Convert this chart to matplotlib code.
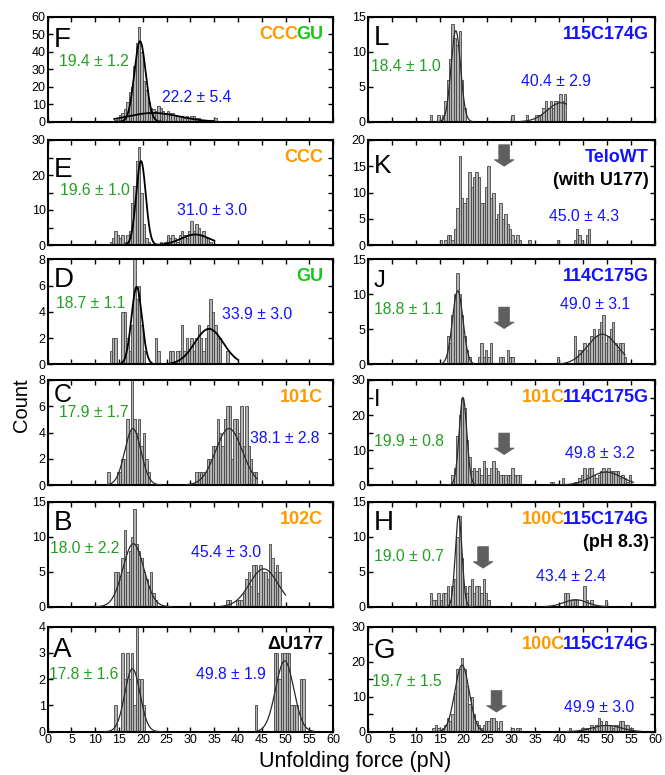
import numpy as np
import matplotlib
matplotlib.use('Agg')
import matplotlib.pyplot as plt
import matplotlib.transforms as mtransforms
from matplotlib.patches import Polygon

plt.rcParams['font.family'] = ['Liberation Sans', 'DejaVu Sans']

BIN = 0.5  # pN bin width

# ---------------- histogram data (bin left edge start, counts) ----------------
F_start = 14.0
F_counts = [1, 2, 4, 5, 7, 11, 17, 20, 32, 45, 54, 40, 23, 18, 11, 8, 7, 6, 9, 8,
            6, 5, 6, 5, 5, 4, 3, 3, 3, 2, 3, 2, 3, 3, 2, 2, 1, 1, 1, 1, 0, 1, 2]

E_start = 13.0
E_counts = [1, 2, 4, 3, 2, 3, 1, 3, 4, 12, 17, 24, 28, 15, 6, 2, 1, 0, 0, 0,
            0, 1, 0, 1, 3, 2, 3, 2, 1, 3, 4, 3, 2, 4, 7, 4, 6, 5, 3, 4, 2, 2, 1]

D_start = 13.0
D_counts = [1, 2, 2, 0, 0, 4, 4, 2, 1, 3, 8, 5, 6, 3, 1, 0, 0, 0, 0, 2,
            1, 0, 0, 0, 0, 1, 1, 0, 1, 1, 3, 1, 2, 1, 2, 1, 2, 3, 2, 1,
            2, 3, 5, 4, 3, 2, 2, 0, 0, 1]

C_lo_start = 12.5
C_lo_counts = [1, 0, 0, 0, 1, 1, 2, 2, 5, 4, 8, 5, 4, 5, 3, 4, 2, 1]
C_hi_start = 31.0
C_hi_counts = [1, 1, 1, 1, 1, 2, 2, 3, 3, 5, 4, 3, 5, 6, 6, 2, 5, 5, 4, 6, 3, 6, 3, 2, 1, 1]

B_lo_start = 14.0
B_lo_counts = [5, 5, 4, 7, 11, 5, 8, 10, 14, 9, 8, 7, 5, 4, 3, 5, 2, 1]
B_hi_start = 37.5
B_hi_counts = [1, 1, 0, 0, 1, 1, 1, 2, 4, 5, 3, 6, 6, 2, 6, 5, 5, 4, 9, 7, 5, 6, 5]

A_lo_start = 14.0
A_lo_counts = [1, 0, 0, 3, 2, 3, 2, 3, 1, 4, 2, 2, 1]
A_hi_start = 43.5
A_hi_counts = [1, 0, 0, 0, 0, 0, 0, 0, 3, 3, 2, 3, 3, 3, 3, 1, 1, 1, 0, 2, 2]

L_lo_start = 13.0
L_lo_counts = [1, 0, 0, 1, 0, 1, 3, 6, 9, 14, 12, 11, 13, 6, 2]
L_hi_start = 30.0
L_hi_counts = [1, 0, 0, 0, 0, 0, 1, 0, 0, 0, 1, 1, 1, 2, 3, 2, 3, 2, 3, 3, 4, 3, 4]

K_start = 15.0
K_counts = [1, 0, 1, 2, 2, 1, 3, 7, 17, 9, 8, 9, 14, 11, 13, 14, 13, 8, 8, 11,
            15, 9, 10, 5, 6, 8, 5, 6, 4, 3, 2, 1, 2, 1, 0, 0, 0, 1, 0, 0,
            0, 0, 0, 0, 0, 0, 0, 0, 0, 1, 0, 0, 0, 0, 0, 0, 1, 3, 2, 1, 0, 2, 3]

J_lo_start = 16.5
J_lo_counts = [4, 3, 7, 10, 13, 10, 7, 4, 2, 1, 0, 0, 0, 1, 3, 1, 2, 1, 3, 0,
               0, 0, 1, 1, 0, 2, 1, 1]
J_hi_start = 39.5
J_hi_counts = [1, 0, 0, 0, 0, 0, 0, 4, 1, 2, 2, 3, 2, 3, 4, 5, 4, 5, 6, 7,
               3, 4, 5, 6, 3, 2, 3, 3, 1]

I_lo_start = 17.5
I_lo_counts = [3, 5, 14, 20, 25, 22, 13, 8, 4, 5, 4, 5, 3, 7, 5, 3, 5, 7, 5, 4,
               3, 3, 3, 3, 3, 5, 3, 3, 3]
I_hi_start = 38.0
I_hi_counts = [1, 1, 0, 0, 0, 2, 0, 0, 0, 0, 1, 1, 2, 3, 5, 3, 5, 5, 3, 2,
               3, 4, 5, 4, 5, 4, 4, 4, 4, 2, 3, 2, 1, 3]

H_lo_start = 13.0
H_lo_counts = [2, 1, 1, 2, 1, 2, 2, 3, 1, 3, 4, 10, 13, 7, 3, 2, 3, 4, 2, 3, 3, 2, 4, 2, 1]
H_hi_start = 41.0
H_hi_counts = [2, 2, 1, 1, 1, 1, 0, 0, 3, 1, 0, 1, 0, 0, 0, 0, 0, 1]

G_lo_start = 13.5
G_lo_counts = [1, 2, 1, 0, 1, 2, 4, 3, 5, 11, 18, 18, 21, 18, 13, 8, 10, 5, 3, 2,
               1, 2, 3, 3, 4, 4, 3, 1, 3, 0, 0, 0, 0, 1, 0, 1, 1]
G_hi_start = 42.0
G_hi_counts = [1, 0, 0, 0, 0, 1, 1, 1, 1, 2, 1, 2, 4, 3, 2, 3, 2, 2, 1, 2,
               2, 3, 3, 2, 2, 1, 1]

# ---------------- Gaussian fits: (mean, sd, amplitude, x from, x to) ----------------
F_fits = [(19.4, 1.2, 46, 15.0, 24.0), (22.2, 5.4, 5.0, 14.0, 35.0)]
E_fits = [(19.6, 1.0, 24, 16.0, 23.0), (31.0, 3.0, 3.0, 22.5, 35.0)]
D_fits = [(18.7, 1.1, 5.9, 13.5, 22.0), (33.9, 3.0, 2.7, 25.0, 40.0)]
C_fits = [(17.9, 1.7, 4.3, 12.5, 24.0), (38.1, 2.8, 4.3, 29.0, 44.0)]
B_fits = [(18.0, 2.2, 9.0, 10.0, 26.0), (45.4, 3.0, 5.4, 36.5, 50.0)]
A_fits = [(17.8, 1.6, 2.4, 12.0, 24.0), (49.8, 1.9, 2.7, 44.0, 56.0)]
L_fits = [(18.4, 1.0, 13, 14.5, 22.0), (40.4, 2.9, 2.7, 32.0, 41.5)]
K_fits = []
J_fits = [(18.8, 1.1, 10.5, 15.0, 22.0), (49.0, 3.1, 4.3, 40.0, 53.7)]
I_fits = [(19.9, 0.8, 25, 16.0, 23.0), (49.8, 3.2, 3.7, 40.0, 55.5)]
H_fits = [(19.0, 0.7, 13, 16.0, 22.0), (43.4, 2.4, 1.0, 37.0, 50.0)]
G_fits = [(19.7, 1.5, 19, 15.0, 24.0), (49.9, 3.0, 1.8, 40.0, 57.0)]

# ---------------- annotations ----------------
ORANGE = '#ff9900'
GREEN_L = '#14c814'
GREEN_T = '#23a023'
BLUE = '#1212ff'
BLACK = '#000000'

# (text, x, y) for green and blue fit labels
F_notes = [("19.4 ± 1.2", 2.4, 34.4), ("22.2 ± 5.4", 24.1, 14.1)]
E_notes = [("19.6 ± 1.0", 2.6, 15.7), ("31.0 ± 3.0", 27.1, 9.8)]
D_notes = [("18.7 ± 1.1", 1.7, 4.64), ("33.9 ± 3.0", 36.6, 3.8)]
C_notes = [("17.9 ± 1.7", 2.4, 5.56), ("38.1 ± 2.8", 42.5, 3.54)]
B_notes = [("18.0 ± 2.2", 0.5, 8.33), ("45.4 ± 3.0", 30.1, 7.7)]
A_notes = [("17.8 ± 1.6", 0.3, 2.19), ("49.8 ± 1.9", 31.2, 2.19)]
L_notes = [("18.4 ± 1.0", 0.6, 7.86), ("40.4 ± 2.9", 32.0, 5.7)]
K_notes = [(None, 0, 0), ("45.0 ± 4.3", 37.9, 5.5)]
J_notes = [("18.8 ± 1.1", 1.4, 7.85), ("49.0 ± 3.1", 40.2, 8.5)]
I_notes = [("19.9 ± 0.8", 1.4, 12.3), ("49.8 ± 3.2", 41.1, 9.0)]
H_notes = [("19.0 ± 0.7", 1.4, 7.24), ("43.4 ± 2.4", 35.1, 4.3)]
G_notes = [("19.7 ± 1.5", 1.0, 14.2), ("49.9 ± 3.0", 40.9, 7.0)]

# panel titles: list of lines, each a list of (text, colour)
F_title = [[("CCC", ORANGE), ("GU", GREEN_L)]]
E_title = [[("CCC", ORANGE)]]
D_title = [[("GU", GREEN_L)]]
C_title = [[("101C", ORANGE)]]
B_title = [[("102C", ORANGE)]]
A_title = [[("ΔU177", BLACK)]]
L_title = [[("115C174G", BLUE)]]
K_title = [[("TeloWT", BLUE)], [("(with U177)", BLACK)]]
J_title = [[("114C175G", BLUE)]]
I_title = [[("101C", ORANGE), ("114C175G", BLUE)]]
H_title = [[("100C", ORANGE), ("115C174G", BLUE)], [("(pH 8.3)", BLACK)]]
G_title = [[("100C", ORANGE), ("115C174G", BLUE)]]

# arrows: (x, tip y) in data
K_arrow = [(28.5, 15.0)]
J_arrow = [(28.5, 5.1)]
I_arrow = [(28.5, 8.7)]
H_arrow = [(24.1, 5.5)]
G_arrow = [(26.9, 5.6)]

# panel letter: (baseline in axes fraction, size)
panels = [
    ('F', 0, 0, [(F_start, F_counts)], F_fits, F_notes, F_title, [], (60, 10, None), True, (0.715, 20)),
    ('E', 0, 1, [(E_start, E_counts)], E_fits, E_notes, E_title, [], (30, 10, 5), True, (0.65, 20)),
    ('D', 0, 2, [(D_start, D_counts)], D_fits, D_notes, D_title, [], (8, 2, None), True, (0.735, 20)),
    ('C', 0, 3, [(C_lo_start, C_lo_counts), (C_hi_start, C_hi_counts)], C_fits, C_notes, C_title, [], (8, 2, None), False, (0.79, 18)),
    ('B', 0, 4, [(B_lo_start, B_lo_counts), (B_hi_start, B_hi_counts)], B_fits, B_notes, B_title, [], (15, 5, None), False, (0.73, 20)),
    ('A', 0, 5, [(A_lo_start, A_lo_counts), (A_hi_start, A_hi_counts)], A_fits, A_notes, A_title, [], (4, 1, None), False, (0.71, 20)),
    ('L', 1, 0, [(L_lo_start, L_lo_counts), (L_hi_start, L_hi_counts)], L_fits, L_notes, L_title, [], (15, 5, None), False, (0.73, 20)),
    ('K', 1, 1, [(K_start, K_counts)], K_fits, K_notes, K_title, K_arrow, (20, 5, None), False, (0.69, 19)),
    ('J', 1, 2, [(J_lo_start, J_lo_counts), (J_hi_start, J_hi_counts)], J_fits, J_notes, J_title, J_arrow, (15, 5, None), False, (0.74, 17)),
    ('I', 1, 3, [(I_lo_start, I_lo_counts), (I_hi_start, I_hi_counts)], I_fits, I_notes, I_title, I_arrow, (30, 10, 5), False, (0.75, 17)),
    ('H', 1, 4, [(H_lo_start, H_lo_counts), (H_hi_start, H_hi_counts)], H_fits, H_notes, H_title, H_arrow, (15, 5, None), False, (0.73, 20)),
    ('G', 1, 5, [(G_lo_start, G_lo_counts), (G_hi_start, G_hi_counts)], G_fits, G_notes, G_title, G_arrow, (30, 10, 5), False, (0.70, 20)),
]

W, H = 665, 775
fig = plt.figure(figsize=(W / 100, H / 100), dpi=100)
renderer = fig.canvas.get_renderer()

col_x = [(47.7, 285.5), (367.7, 287.3)]
row_tops = [16.7, 140.0, 259.3, 380.0, 501.7, 626.7]
row_h = 105.0
TITLE_SIZE = 13
JOIN_FIX = 2.5  # px: tighten the join between two differently coloured parts


def colored_right(ax, x, y, parts, size):
    full = ''.join(p[0] for p in parts)
    kw = dict(va='baseline', fontsize=size, fontweight='bold', transform=ax.transAxes)
    if len(parts) == 1:
        ax.text(x, y, full, color=parts[0][1], ha='right', **kw)
        return
    tmp = ax.text(x, y, full, ha='right', **kw)
    wfull = tmp.get_window_extent(renderer).width
    tmp.remove()
    ax.text(x, y, parts[1][0], color=parts[1][1], ha='right', **kw)
    tr = mtransforms.offset_copy(ax.transAxes, fig=fig, x=-wfull + JOIN_FIX, y=0, units='dots')
    kw['transform'] = tr
    ax.text(x, y, parts[0][0], color=parts[0][1], ha='left', **kw)


def draw_arrow(ax, x, y):
    # arrow in pixel units (inches at 100 dpi), anchored at tip
    hw_s, hw_h, L, hl = 0.054, 0.10, 0.215, 0.065
    verts = [(0, 0), (-hw_h, hl), (-hw_s, hl), (-hw_s, L), (hw_s, L), (hw_s, hl), (hw_h, hl)]
    tr = fig.dpi_scale_trans + mtransforms.ScaledTranslation(x, y, ax.transData)
    ax.add_patch(Polygon(verts, closed=True, transform=tr, fc='#5f5f5f', ec='#5f5f5f', lw=0.5,
                         zorder=5, clip_on=False))


for letter, col, row, segs, fits, notes, title, arrows, yax, heavy, lett in panels:
    x0, w = col_x[col]
    top = row_tops[row]
    ax = fig.add_axes([x0 / W, 1 - (top + row_h) / H, w / W, row_h / H])
    for start, counts in segs:
        edges = start + BIN * np.arange(len(counts))
        ax.bar(edges, counts, width=BIN, align='edge', color='#b4b4b4',
               edgecolor='#444444', linewidth=0.6, zorder=2)
    for mu, sd, amp, lo, hi in fits:
        xs = np.linspace(lo, hi, 300)
        ys = amp * np.exp(-0.5 * ((xs - mu) / sd) ** 2)
        if heavy:
            ax.plot(xs, ys, color='black', lw=1.3, zorder=3)
        else:
            ax.plot(xs, ys, color='#2a2a2a', lw=0.9, zorder=3)
    ymax, step, minor = yax
    ax.set_xlim(0, 60)
    ax.set_ylim(0, ymax)
    ax.set_xticks(np.arange(0, 61, 5))
    ax.set_yticks(np.arange(0, ymax + 0.01, step))
    if minor:
        ax.set_yticks(np.arange(0, ymax + 0.01, minor), minor=True)
    ax.tick_params(which='both', direction='in', top=True, right=True, length=3.5,
                   width=1.0, labelsize=9, pad=1.5)
    if row != 5:
        ax.set_xticklabels([])
    for sp in ax.spines.values():
        sp.set_linewidth(1.5)
    (gt, gx, gy), (bt, bx, by) = notes
    if gt:
        ax.text(gx, gy, gt, color=GREEN_T, fontsize=11.3, ha='left', va='center', zorder=6)
    ax.text(bx, by, bt, color=BLUE, fontsize=11.3, ha='left', va='center', zorder=6)
    ax.text(0.02, lett[0], letter, transform=ax.transAxes, fontsize=lett[1], ha='left',
            va='baseline')
    rx = 0.965 if col == 0 else 0.977
    for li, parts in enumerate(title):
        colored_right(ax, rx, 0.79 - 0.222 * li, parts, TITLE_SIZE)
    for ax_x, ax_y in arrows:
        draw_arrow(ax, ax_x, ax_y)

fig.text(21 / W, 1 - 405 / H, 'Count', rotation=90, fontsize=14.5, ha='center', va='center')
fig.text(355 / W, 1 - 761 / H, 'Unfolding force (pN)', fontsize=15.5, ha='center', va='center')

fig.savefig('out.png', dpi=100)
